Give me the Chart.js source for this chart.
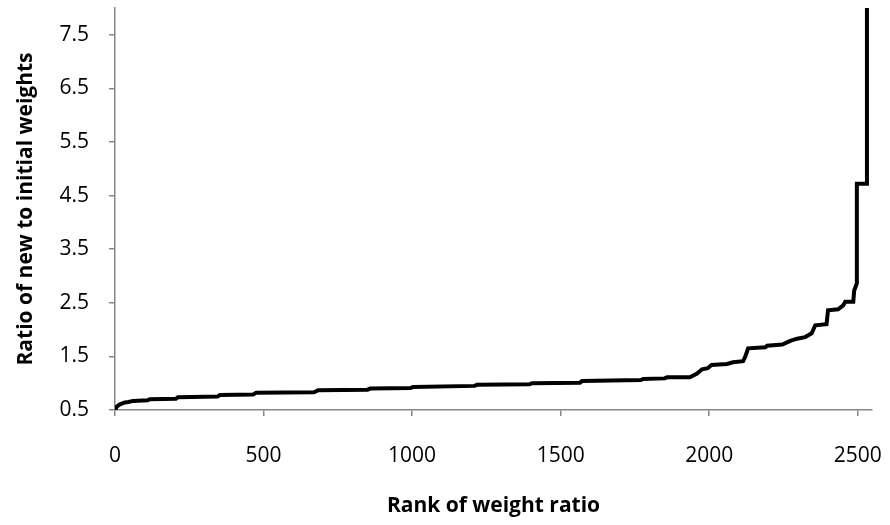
<!DOCTYPE html>
<html>
<head>
<meta charset="utf-8">
<script src="https://cdn.jsdelivr.net/npm/chart.js@4"></script>
<style>
  html, body { margin: 0; padding: 0; background: #fff; }
  #wrap { width: 890px; height: 525px; }
</style>
</head>
<body>
<div id="wrap"><canvas id="ratioChart" width="890" height="525"></canvas></div>
<script>
// rank of weight ratio (x) and ratio of new to initial weights (y)
const rank = [0, 5, 15, 33, 45, 61, 110, 117, 205, 212, 345, 353, 465, 475, 670, 684, 850, 859,
  995, 1003, 1210, 1219, 1395, 1404, 1565, 1572, 1770, 1778, 1850, 1858, 1935, 1959, 1976, 1995,
  2008, 2060, 2080, 2114, 2121, 2131, 2189, 2195, 2246, 2273, 2296, 2323, 2345, 2357, 2395, 2400,
  2434, 2451, 2458, 2485, 2488, 2497, 2497, 2531, 2531];
const ratio = [0.48, 0.56, 0.6, 0.64, 0.65, 0.67, 0.68, 0.7, 0.71, 0.74, 0.75, 0.78, 0.79, 0.82,
  0.83, 0.87, 0.88, 0.9, 0.91, 0.93, 0.95, 0.97, 0.98, 1.0, 1.01, 1.04, 1.06, 1.08, 1.09, 1.11,
  1.11, 1.18, 1.26, 1.28, 1.34, 1.36, 1.39, 1.41, 1.49, 1.65, 1.67, 1.7, 1.72, 1.79, 1.83, 1.86,
  1.93, 2.08, 2.1, 2.36, 2.38, 2.45, 2.52, 2.52, 2.73, 2.86, 4.72, 4.72, 8.0];

const xTicks = [0, 500, 1000, 1500, 2000, 2500];
const yTicks = [0.5, 1.5, 2.5, 3.5, 4.5, 5.5, 6.5, 7.5];

const points = rank.map((r, i) => ({ x: r, y: ratio[i] }));
const axisGrey = '#868686';
const fontFam = "'Open Sans', Lato, sans-serif";

// drop the label overflow padding so the plot box matches the original
const noLabelPadding = (s) => {
  s.paddingTop = 0;
  s.paddingBottom = 0;
  s.paddingLeft = 0;
  s.paddingRight = 0;
};

const ctx = document.getElementById('ratioChart').getContext('2d');
new Chart(ctx, {
  type: 'scatter',
  data: {
    datasets: [
      {
        data: points,
        showLine: true,
        borderColor: '#000',
        borderWidth: 4,
        pointRadius: 0,
        tension: 0,
      },
    ],
  },
  options: {
    responsive: false,
    animation: false,
    layout: { autoPadding: false, padding: { top: 8, right: 18, left: 0, bottom: 0 } },
    plugins: { legend: { display: false }, tooltip: { enabled: false } },
    scales: {
      x: {
        type: 'linear',
        min: 0,
        max: 2548,
        afterBuildTicks: (s) => { s.ticks = xTicks.map((v) => ({ value: v })); },
        afterFit: (s) => { s.height = 115; noLabelPadding(s); },
        border: { color: axisGrey, width: 1.5 },
        grid: { drawOnChartArea: false, color: axisGrey, tickLength: 6, lineWidth: 1.5 },
        ticks: {
          color: '#000',
          padding: 27,
          maxRotation: 0,
          font: { family: fontFam, size: 21 },
          callback: (v) => String(v),
        },
        title: {
          display: true,
          text: 'Rank of weight ratio',
          color: '#000',
          padding: { top: 0, bottom: 6 },
          font: { family: fontFam, size: 21, weight: 'bold' },
        },
      },
      y: {
        type: 'linear',
        min: 0.5,
        max: 8,
        afterBuildTicks: (s) => { s.ticks = yTicks.map((v) => ({ value: v })); },
        afterFit: (s) => { s.width = 115; noLabelPadding(s); },
        border: { color: axisGrey, width: 1.5 },
        grid: { drawOnChartArea: false, color: axisGrey, tickLength: 6, lineWidth: 1.5 },
        ticks: { color: '#000', padding: 20, font: { family: fontFam, size: 21 } },
        title: {
          display: true,
          text: 'Ratio of new to initial weights',
          color: '#000',
          padding: { top: 13, bottom: 0 },
          font: { family: fontFam, size: 21, weight: 'bold' },
        },
      },
    },
  },
});
</script>
</body>
</html>
